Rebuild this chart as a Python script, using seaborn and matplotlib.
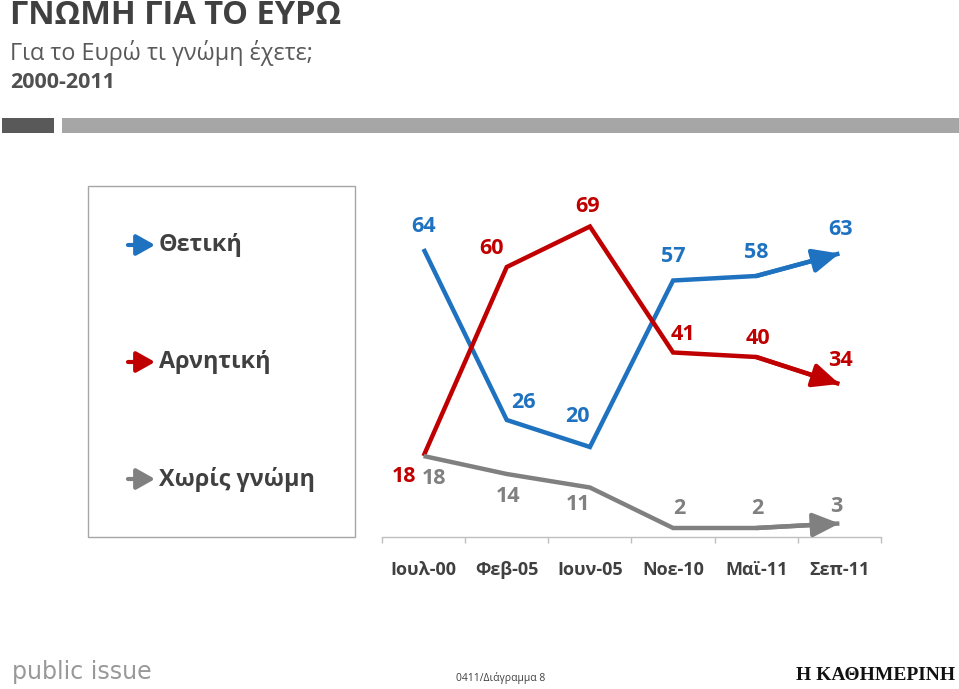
import numpy as np
import pandas as pd
import matplotlib
matplotlib.use("Agg")
import matplotlib.pyplot as plt
from matplotlib.patches import Rectangle, FancyArrowPatch
import seaborn as sns

# data
periods = ["Ιουλ-00", "Φεβ-05", "Ιουν-05", "Νοε-10", "Μαϊ-11", "Σεπ-11"]
series_names = ["Θετική", "Αρνητική", "Χωρίς γνώμη"]
positive = [64, 26, 20, 57, 58, 63]
negative = [18, 60, 69, 41, 40, 34]
no_opinion = [18, 14, 11, 2, 2, 3]

colors = {"Θετική": "#1F72C0", "Αρνητική": "#C00000", "Χωρίς γνώμη": "#808080"}

# label offsets in pixels (dx, dy) from each point
label_offsets = {
    "Θετική": [(0, 23), (17, 17), (-12, 31), (0, 24), (0, 24), (1, 24)],
    "Αρνητική": [(-20, -20), (-15, 19), (-2, 20), (10, 18), (2, 18), (1, 24)],
    "Χωρίς γνώμη": [(10, -23), (1, -22), (-12, -17), (6, 20), (1, 20), (-3, 17)],
}

x_pos = np.arange(len(periods))
df = pd.DataFrame({
    "x": np.tile(x_pos, 3),
    "series": np.repeat(series_names, len(periods)),
    "value": positive + negative + no_opinion,
})

sns.set_theme(style="white")
plt.rcParams["font.family"] = ["Open Sans", "DejaVu Sans"]

W, H = 959, 689
fig = plt.figure(figsize=(W / 100, H / 100), dpi=100)


def fx(px):
    return px / W


def fy(py):
    return 1 - py / H


# plot area
ax = fig.add_axes([fx(382), fy(537), fx(881) - fx(382), fy(199.5) - fy(537)])
sns.lineplot(data=df, x="x", y="value", hue="series", palette=colors,
             linewidth=3.2, sort=False, legend=False, ax=ax,
             solid_capstyle="butt", solid_joinstyle="miter")

for name in series_names:
    sub = df[df["series"] == name]
    xs, ys = sub["x"].to_numpy(), sub["value"].to_numpy()
    # arrow head at the end of each line
    ax.annotate("", xy=(xs[-1], ys[-1]), xytext=(xs[-2], ys[-2]),
                arrowprops=dict(arrowstyle="-|>,head_length=1.0,head_width=0.45",
                                color=colors[name], lw=3.2,
                                shrinkA=0, shrinkB=0, mutation_scale=16))
    for (xv, yv), (dx, dy) in zip(zip(xs, ys), label_offsets[name]):
        ax.annotate(str(yv), xy=(xv, yv), xytext=(dx, dy),
                    textcoords="offset pixels", ha="center", va="center",
                    fontsize=15.5, fontweight="bold", color=colors[name])

ax.set_xlim(-0.5, len(periods) - 0.5)
ax.set_ylim(0, 75)
ax.set_xticks(x_pos)
ax.set_xticklabels(periods, fontsize=13, fontweight="bold", color="#404040")
ax.set_xticks(np.arange(len(periods) + 1) - 0.5, minor=True)
ax.tick_params(axis="x", which="major", length=0, pad=17)
ax.tick_params(axis="x", which="minor", length=4.5, width=1, color="#BFBFBF",
               direction="out", bottom=True)
ax.set_yticks([])
ax.set_xlabel("")
ax.set_ylabel("")
for s in ["top", "left", "right"]:
    ax.spines[s].set_visible(False)
ax.spines["bottom"].set_color("#BFBFBF")
ax.spines["bottom"].set_linewidth(1)
ax.patch.set_alpha(0)

# legend box with arrows
fig.add_artist(Rectangle((fx(88), fy(537)), fx(355) - fx(88), fy(186) - fy(537),
                         transform=fig.transFigure, fill=False,
                         edgecolor="#A6A6A6", linewidth=1))
legend_y = [245, 362, 479]
for name, ly in zip(series_names, legend_y):
    fig.add_artist(FancyArrowPatch(
        (fx(128), fy(ly)), (fx(155), fy(ly)), transform=fig.transFigure,
        arrowstyle="-|>,head_length=0.8,head_width=0.45", mutation_scale=14,
        color=colors[name], lw=3, shrinkA=0, shrinkB=0))
    fig.text(fx(159), fy(ly), name, fontsize=16.8, fontweight="bold",
             color="#404040", ha="left", va="center")

# header
fig.text(fx(10), fy(16), "ΓΝΩΜΗ ΓΙΑ ΤΟ ΕΥΡΩ", fontsize=23.5, fontweight="bold",
         color="#404040", ha="left", va="center")
fig.text(fx(10), fy(53), "Για το Ευρώ τι γνώμη έχετε;", fontsize=16.8,
         color="#595959", ha="left", va="center")
fig.text(fx(10), fy(83), "2000-2011", fontsize=15.5, fontweight="bold",
         color="#505050", ha="left", va="center")
fig.add_artist(Rectangle((fx(2), fy(133)), fx(54) - fx(2), fy(118) - fy(133),
                         transform=fig.transFigure, color="#595959", lw=0))
fig.add_artist(Rectangle((fx(62), fy(133)), fx(959) - fx(62), fy(118) - fy(133),
                         transform=fig.transFigure, color="#A6A6A6", lw=0))

# footer
fig.text(fx(12), fy(672), "public issue", fontsize=17, color="#999999",
         family=["DejaVu Sans"], ha="left", va="center")
fig.text(fx(501), fy(678), "0411/Διάγραμμα 8", fontsize=7.5, color="#404040",
         ha="center", va="center")
fig.text(fx(955), fy(675), "Η ΚΑΘΗΜΕΡΙΝΗ", fontsize=14, color="#111111",
         fontweight="bold", family=["Liberation Serif"], ha="right", va="center")

fig.savefig("out.png", dpi=100)
